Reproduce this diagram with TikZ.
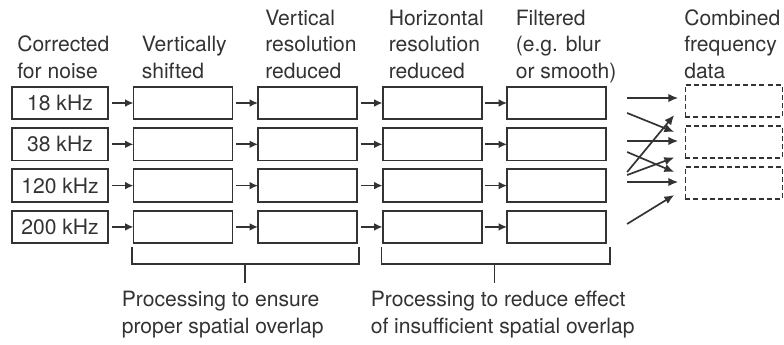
\documentclass[tikz,border=0pt]{standalone}
\usepackage{fontspec}
\setmainfont{TeX Gyre Heros}
\usepackage{xcolor}
\usepackage{tikz}
\usetikzlibrary{arrows.meta,positioning,calc}

\definecolor{ink}{HTML}{333333}
\newcommand{\lblfont}{\fontsize{15}{18.5}\selectfont}

\begin{document}
\begin{tikzpicture}[
    x=0.025cm, y=-0.025cm,
    color=ink,
    procbox/.style={
        rectangle, draw, line width=1.3pt,
        minimum width=2.475cm,
        minimum height=0.8125cm,
        inner sep=0pt, outer sep=0pt,
        font=\lblfont
    },
    freqbox/.style={procbox, minimum width=2.4cm},
    databox/.style={
        rectangle, draw, line width=1pt,
        dash pattern=on 3.6pt off 2.2pt,
        minimum width=2.425cm,
        minimum height=0.8cm,
        inner sep=0pt, outer sep=0pt
    },
    hdr/.style={anchor=base west, align=left, inner sep=0pt, font=\lblfont},
    arr/.style={-{Latex[length=6pt,width=5.5pt]}, line width=1.2pt, shorten <=2.5pt},
    xarr/.style={-{Latex[length=7pt,width=6pt]}, line width=1.2pt},
    brk/.style={line width=1.2pt},
]
\useasboundingbox (0,0) rectangle (784,344);

% column titles (base = last line)
\node[hdr] (h0) at (17,78) {Corrected\\for noise};
\node[hdr] (h1) at (141.5,78) {Vertically\\shifted};
\node[hdr] (h2) at (265,78) {Vertical\\resolution\\reduced};
\node[hdr] (h3) at (388.5,78) {Horizontal\\resolution\\reduced};
\node[hdr] (h4) at (515.5,78) {Filtered\\(e.g. blur\\or smooth)};
\node[hdr] (h5) at (684,78) {Combined\\frequency\\data};

% input frequencies
\node[freqbox] (f18) at (60,103) {18 kHz};
\node[freqbox, below=0.22cm of f18] (f38) {38 kHz};
\node[freqbox, below=0.22cm of f38] (f120) {120 kHz};
\node[freqbox, below=0.22cm of f120] (f200) {200 kHz};

% vertically shifted
\node[procbox, right=0.6375cm of f18] (vs1) {};
\node[procbox, right=0.6375cm of f38] (vs2) {};
\node[procbox, right=0.6375cm of f120] (vs3) {};
\node[procbox, right=0.6375cm of f200] (vs4) {};

% vertical resolution reduced
\node[procbox, right=0.6375cm of vs1] (vr1) {};
\node[procbox, right=0.6375cm of vs2] (vr2) {};
\node[procbox, right=0.6375cm of vs3] (vr3) {};
\node[procbox, right=0.6375cm of vs4] (vr4) {};

% horizontal resolution reduced
\node[procbox, right=0.6375cm of vr1] (hr1) {};
\node[procbox, right=0.6375cm of vr2] (hr2) {};
\node[procbox, right=0.6375cm of vr3] (hr3) {};
\node[procbox, right=0.6375cm of vr4] (hr4) {};

% filtered
\node[procbox, right=0.6375cm of hr1] (fl1) {};
\node[procbox, right=0.6375cm of hr2] (fl2) {};
\node[procbox, right=0.6375cm of hr3] (fl3) {};
\node[procbox, right=0.6375cm of hr4] (fl4) {};

% combined frequency data
\node[databox] (cd1) at (733.75,101) {};
\node[databox, below=0.225cm of cd1] (cd2) {};
\node[databox, below=0.225cm of cd2] (cd3) {};

% row flow
\draw[arr] (f18) -- (vs1);
\draw[arr] (vs1) -- (vr1);
\draw[arr] (vr1) -- (hr1);
\draw[arr] (hr1) -- (fl1);
\draw[arr] (f38) -- (vs2);
\draw[arr] (vs2) -- (vr2);
\draw[arr] (vr2) -- (hr2);
\draw[arr] (hr2) -- (fl2);
\draw[arr] (f120) -- (vs3);
\draw[arr] (vs3) -- (vr3);
\draw[arr] (vr3) -- (hr3);
\draw[arr] (hr3) -- (fl3);
\draw[arr] (f200) -- (vs4);
\draw[arr] (vs4) -- (vr4);
\draw[arr] (vr4) -- (hr4);
\draw[arr] (hr4) -- (fl4);

% combining
\draw[xarr] ([shift={(21,-5)}]fl1.east) -- ([shift={(-7,-3)}]cd1.west);
\draw[xarr] ([shift={(21,10)}]fl1.east) -- ([shift={(-11,-10)}]cd2.west);
\draw[xarr] ([shift={(21,-3.3)}]fl2.east) -- ([shift={(-7,-1)}]cd2.west);
\draw[xarr] ([shift={(21,7.7)}]fl2.east) -- ([shift={(-11,-11)}]cd3.west);
\draw[xarr] ([shift={(21,-13.6)}]fl3.east) -- ([shift={(-11,14)}]cd1.west);
\draw[xarr] ([shift={(21,-10.6)}]fl3.east) -- ([shift={(-11,15.5)}]cd2.west);
\draw[xarr] ([shift={(21,-3.6)}]fl3.east) -- ([shift={(-7,-1)}]cd3.west);
\draw[xarr] ([shift={(21,-3)}]fl4.east) -- ([shift={(-11,12)}]cd3.west);

% brackets
\draw[brk] ([shift={(-1.5,4)}]vs4.south west) -- ++(0,17) -| ([shift={(2,4)}]vr4.south east);
\draw[brk] ($(vs4.south west)!0.5!(vr4.south east)+(0,21)$) -- ++(0,19);
\draw[brk] ([shift={(-1,4)}]hr4.south west) -- ++(0,17) -| ([shift={(4,4)}]fl4.south east);
\draw[brk] ($(hr4.south west)!0.5!(fl4.south east)+(0,21)$) -- ++(0,19);

\node[hdr] (capl) at (121.5,333) {Processing to ensure\\proper spatial overlap};
\node[hdr] (capr) at (370.5,333) {Processing to reduce effect\\of insufficient spatial overlap};

\end{tikzpicture}
\end{document}
